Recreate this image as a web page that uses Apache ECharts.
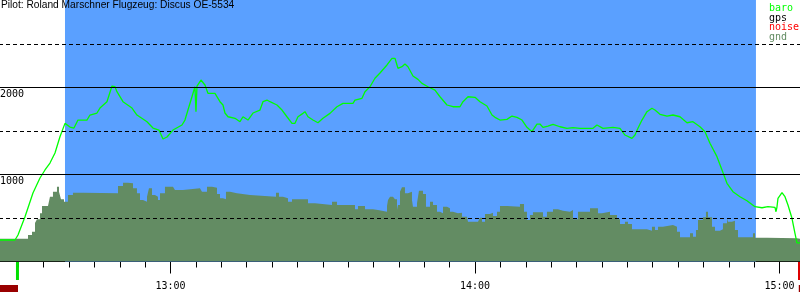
<!DOCTYPE html>
<html><head><meta charset="utf-8">
<script src="https://cdn.jsdelivr.net/npm/echarts@6/dist/echarts.min.js"></script>
<style>html,body{margin:0;padding:0;background:#fff}#c{width:800px;height:300px}</style>
</head><body><div id="c"></div><script>
// time: minutes after 12:00, altitude: metres
const baroTime = [26.4, 29.36, 29.95, 31.33, 32.9, 34.28, 35.27, 36.25, 37.24, 38.22,
 39.21, 40.19, 40.98, 41.77, 43.54, 44.13, 45.51, 46.1, 47.48, 48.47,
 49.06, 49.45, 50.64, 52.41, 53.39, 55.37, 56.55, 57.73, 58.52, 59.31,
 60.49, 62.26, 62.85, 63.44, 64.23, 64.82, 65.02, 65.22, 66.0, 66.79,
 67.38, 68.76, 69.75, 70.34, 70.73, 71.33, 72.71, 73.69, 74.28, 75.27,
 76.25, 77.63, 78.22, 79.01, 79.6, 80.98, 81.97, 82.95, 83.94, 84.53,
 85.12, 86.1, 86.5, 87.09, 88.07, 89.06, 90.04, 91.42, 92.8, 93.98,
 95.95, 96.35, 97.73, 98.32, 99.31, 100.29, 101.28, 102.66, 103.64, 104.23,
 104.82, 105.61, 106.2, 106.79, 107.78, 108.76, 109.55, 110.73, 112.11, 113.1,
 114.48, 115.66, 117.04, 117.63, 118.62, 120.0, 120.98, 122.36, 123.35, 123.94,
 124.92, 126.3, 127.29, 128.27, 129.26, 130.24, 131.23, 132.21, 132.8, 133.4,
 134.38, 135.37, 136.75, 138.12, 139.31, 140.69, 143.25, 144.03, 145.22, 147.19,
 148.57, 149.55, 150.93, 151.52, 152.11, 152.9, 153.89, 154.87, 155.46, 156.45,
 157.83, 159.01, 160.39, 161.77, 162.95, 164.33, 165.32, 166.3, 167.68, 168.67,
 169.65, 170.83, 172.21, 173.59, 175.17, 176.55, 177.73, 179.11, 179.31, 179.5,
 179.7, 180.49, 181.08, 181.67, 182.46, 183.05, 183.44, 184.04];
const baroAlt = [247, 247, 305, 515, 787, 960, 1052, 1132, 1247, 1434,
 1588, 1546, 1534, 1626, 1626, 1684, 1707, 1764, 1837, 2017,
 2009, 1952, 1837, 1764, 1684, 1607, 1534, 1511, 1408, 1431,
 1511, 1569, 1626, 1741, 1894, 2009, 1722, 2017, 2086, 2029,
 1933, 1933, 1837, 1799, 1707, 1664, 1646, 1607, 1664, 1626,
 1707, 1741, 1837, 1856, 1837, 1799, 1741, 1664, 1588, 1588,
 1664, 1703, 1722, 1664, 1626, 1595, 1646, 1703, 1779, 1818,
 1818, 1856, 1876, 1952, 2009, 2106, 2167, 2259, 2336, 2336,
 2221, 2239, 2270, 2239, 2132, 2094, 2048, 2009, 1971, 1894,
 1799, 1779, 1779, 1837, 1894, 1887, 1837, 1787, 1684, 1657,
 1626, 1634, 1672, 1657, 1626, 1542, 1492, 1580, 1580, 1542,
 1557, 1577, 1549, 1531, 1538, 1531, 1531, 1569, 1531, 1542,
 1531, 1454, 1416, 1454, 1531, 1626, 1722, 1761, 1741, 1692,
 1672, 1684, 1664, 1595, 1607, 1549, 1492, 1359, 1205, 1052,
 899, 802, 745, 699, 630, 618, 630, 623, 572, 626,
 726, 791, 745, 649, 497, 324, 215, 215];
const gndTime = [26.4, 31.92, 32.71, 33.3, 33.69, 34.28, 34.68, 35.86, 36.25, 36.84,
 37.63, 38.03, 38.42, 39.01, 39.8, 40.78, 42.75, 49.65, 50.64, 51.62,
 52.61, 53.39, 53.99, 54.58, 55.37, 55.76, 56.35, 56.94, 57.53, 57.93,
 58.91, 60.49, 60.88, 62.46, 65.81, 66.2, 67.19, 68.17, 69.16, 69.75,
 70.34, 70.93, 71.72, 73.1, 75.66, 80.79, 81.37, 82.16, 83.15, 83.94,
 87.09, 88.47, 91.82, 92.8, 96.35, 96.94, 98.32, 99.9, 100.88, 102.66,
 102.86, 103.25, 103.84, 104.23, 104.63, 104.82, 105.22, 105.61, 106.2, 106.79,
 107.58, 107.78, 108.57, 108.96, 109.75, 110.34, 111.13, 111.72, 112.51, 113.1,
 113.69, 114.48, 115.07, 115.66, 116.64, 117.43, 118.42, 118.62, 120.59, 120.98,
 121.38, 121.97, 122.95, 123.54, 124.33, 124.92, 126.3, 128.86, 129.65, 130.24,
 130.83, 131.42, 133.4, 134.18, 135.37, 136.35, 137.34, 138.71, 139.31, 140.29,
 142.66, 144.23, 145.02, 146.6, 147.98, 148.57, 149.55, 150.14, 150.93, 153.89,
 154.87, 155.46, 156.06, 157.04, 159.01, 159.8, 160.39, 162.36, 162.95, 163.54,
 163.94, 164.92, 165.51, 165.91, 166.7, 167.29, 168.27, 168.86, 169.65, 169.85,
 170.63, 171.22, 171.82, 174.77, 175.17, 177.53, 183.44, 185];
const gndAlt = [262, 305, 343, 443, 485, 554, 638, 649, 745, 802,
 860, 802, 715, 687, 764, 791, 784, 868, 906, 899,
 841, 784, 707, 687, 745, 841, 764, 745, 707, 784,
 860, 868, 822, 841, 848, 802, 860, 848, 776, 726,
 715, 802, 784, 764, 745, 791, 745, 726, 687, 715,
 669, 649, 687, 649, 600, 638, 600, 592, 572, 638,
 707, 745, 753, 715, 592, 649, 802, 853, 784, 802,
 707, 630, 669, 814, 776, 630, 687, 649, 572, 554,
 630, 611, 572, 554, 561, 515, 534, 457, 446, 503,
 457, 546, 561, 523, 572, 638, 630, 661, 572, 477,
 534, 565, 515, 572, 600, 584, 572, 592, 485, 572,
 611, 554, 572, 534, 485, 431, 457, 431, 370, 354,
 400, 362, 400, 420, 400, 343, 278, 324, 285, 362,
 477, 508, 572, 508, 400, 354, 370, 439, 497, 457,
 469, 362, 278, 324, 274, 267, 255, 255];
const taskWindow = [39.21, 175.36];      // blue task period
const takeoffMark = [29.55, 30.14];      // green marker
const landingMark = [183.64, 185];       // red marker
const loggerBars = [[25, 29.95], [183.8, 185]];
const yGridSolid = [1000, 2000];
const yGridDashed = [500, 1500, 2500];
const legendNames = ['baro', 'gps', 'noise', 'gnd'];
const legendColors = ['#00ff00', '#000000', '#ff0000', '#638c63'];
const titleText = 'Pilot: Roland Marschner Flugzeug: Discus OE-5534';

const chart = echarts.init(document.getElementById('c'), null, {renderer: 'canvas'});
const toPairs = (a, b) => a.map((t, i) => [t, b[i]]);
const hhmm = v => { const h = 12 + Math.floor(v / 60), m = Math.round(v % 60); return h + ':' + (m < 10 ? '0' : '') + m; };
const mono = 'DejaVu Sans Mono';

chart.setOption({
  animation: false,
  title: {text: titleText, left: 1, top: 0, padding: 0,
    textStyle: {fontFamily: 'Liberation Sans', fontSize: 10.2, fontWeight: 'normal', color: '#000'}},
  graphic: legendNames.map((n, i) => ({type: 'text', left: 769, top: 3.5 + i * 9.6, z: 100,
    style: {text: n, fill: legendColors[i], font: '10px "' + mono + '"'}})),
  grid: [
    {left: -134, right: -284, top: 0, bottom: 38.5, outerBoundsMode: 'none'},
    {left: -134, right: -284, top: 262, height: 30, outerBoundsMode: 'none'}
  ],
  xAxis: [
    {type: 'value', gridIndex: 0, min: 0, max: 240, interval: 60,
      axisLine: {lineStyle: {color: '#000', width: 1}},
      axisTick: {length: 12, lineStyle: {color: '#000', width: 1}},
      minorTick: {show: true, splitNumber: 12, length: 6, lineStyle: {color: '#000', width: 1}},
      splitLine: {show: false},
      axisLabel: {formatter: hhmm, margin: 20, color: '#000', fontFamily: mono, fontSize: 10}},
    {type: 'value', gridIndex: 1, min: 0, max: 240, show: false}
  ],
  yAxis: [
    {type: 'value', gridIndex: 0, min: 0, max: 3006, interval: 1000, offset: -134,
      axisLine: {show: false}, axisTick: {show: false}, splitLine: {show: false},
      axisLabel: {inside: true, margin: 0, verticalAlign: 'top', padding: [2, 0, 0, 0], color: '#000', fontFamily: mono, fontSize: 10,
        formatter: v => (v > 0 && v < 3000) ? String(v) : ''}},
    {type: 'value', gridIndex: 1, min: 0, max: 30, inverse: true, show: false}
  ],
  series: [
    {name: 'gnd', type: 'line', data: toPairs(gndTime, gndAlt), step: 'end', symbol: 'none',
      lineStyle: {width: 0}, areaStyle: {color: '#638c63', opacity: 1}, z: 2,
      markArea: {silent: true, z: 1, itemStyle: {color: '#5aa0ff'},
        data: [[{xAxis: taskWindow[0]}, {xAxis: taskWindow[1]}]]}},
    {name: 'baro', type: 'line', data: toPairs(baroTime, baroAlt), symbol: 'none',
      lineStyle: {color: '#00ff00', width: 1.3}, z: 3,
      markLine: {silent: true, symbol: ['none', 'none'], label: {show: false}, z: 5,
        data: yGridSolid.map(v => ({yAxis: v, lineStyle: {type: 'solid', color: '#000', width: 1}}))
          .concat(yGridDashed.map(v => ({yAxis: v, lineStyle: {type: [4, 3], color: '#000', width: 1}})))}},
    {name: 'marks', type: 'line', xAxisIndex: 1, yAxisIndex: 1, data: [], z: 6,
      markArea: {silent: true, z: 6,
        data: [
          [{xAxis: takeoffMark[0], yAxis: 0, itemStyle: {color: '#00e000'}}, {xAxis: takeoffMark[1], yAxis: 18}],
          [{xAxis: landingMark[0], yAxis: 0, itemStyle: {color: '#dd0000'}}, {xAxis: landingMark[1], yAxis: 18}]
        ].concat(loggerBars.map(b => [{xAxis: b[0], yAxis: 23, itemStyle: {color: '#990000'}}, {xAxis: b[1], yAxis: 30}]))}}
  ]
});
</script></body></html>
